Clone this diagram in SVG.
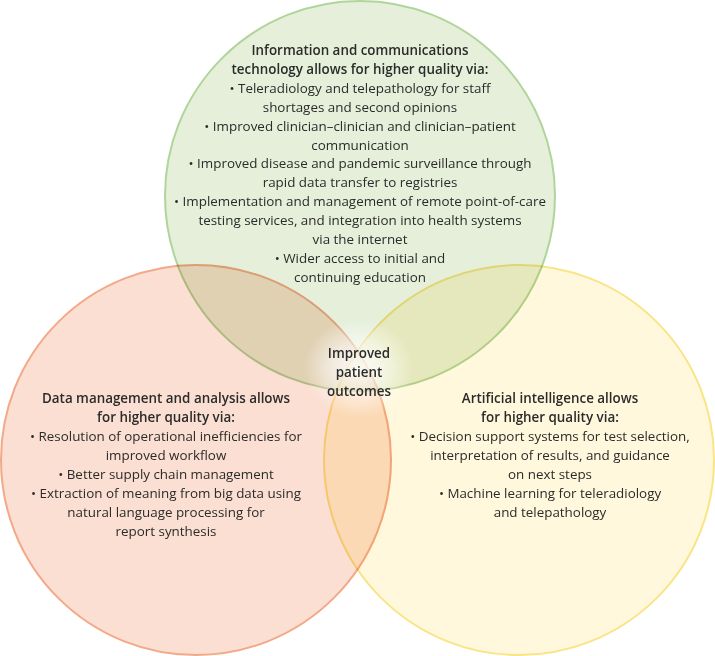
<svg xmlns="http://www.w3.org/2000/svg" width="715" height="656" viewBox="0 0 715 656">
<defs>
<radialGradient id="glow" cx="0.5" cy="0.5" r="0.5">
<stop offset="0" stop-color="#ffffff" stop-opacity="0.9"/>
<stop offset="0.55" stop-color="#ffffff" stop-opacity="0.5"/>
<stop offset="1" stop-color="#ffffff" stop-opacity="0"/>
</radialGradient>
</defs>
<style>
.c{mix-blend-mode:multiply;stroke-width:2}
text{font-family:"Open Sans","Noto Sans",sans-serif;font-size:13.4px;fill:#2b2b2b;text-anchor:middle}
.b{font-weight:600}
</style>
<rect width="715" height="656" fill="#ffffff"/>
<g id="ict">
<circle class="c" cx="360" cy="196" r="195" fill="#e5efda" stroke="#b0d59a"/>
</g>
<g id="data">
<circle class="c" cx="196" cy="460" r="195" fill="#fbdfd2" stroke="#f3a888"/>
</g>
<g id="ai">
<circle class="c" cx="519" cy="460" r="195" fill="#fff8dc" stroke="#f9e486"/>
</g>
<g id="ict-text">
<text x="360" y="55" class="b">Information and communications</text>
<text x="360" y="74" class="b">technology allows for higher quality via:</text>
<text x="360" y="93">• Teleradiology and telepathology for staff</text>
<text x="360" y="112">shortages and second opinions</text>
<text x="360" y="131">• Improved clinician–clinician and clinician–patient</text>
<text x="360" y="150">communication</text>
<text x="360" y="168">• Improved disease and pandemic surveillance through</text>
<text x="360" y="187">rapid data transfer to registries</text>
<text x="360" y="206">• Implementation and management of remote point-of-care</text>
<text x="360" y="225">testing services, and integration into health systems</text>
<text x="360" y="244">via the internet</text>
<text x="360" y="263">• Wider access to initial and</text>
<text x="360" y="282">continuing education</text>
</g>
<g id="data-text">
<text x="166" y="403" class="b">Data management and analysis allows</text>
<text x="166" y="422" class="b">for higher quality via:</text>
<text x="166" y="441">• Resolution of operational inefficiencies for</text>
<text x="166" y="460">improved workflow</text>
<text x="166" y="479">• Better supply chain management</text>
<text x="166" y="498">• Extraction of meaning from big data using</text>
<text x="166" y="517">natural language processing for</text>
<text x="166" y="536">report synthesis</text>
</g>
<g id="ai-text">
<text x="550" y="403" class="b">Artificial intelligence allows</text>
<text x="550" y="422" class="b">for higher quality via:</text>
<text x="550" y="441">• Decision support systems for test selection,</text>
<text x="550" y="460">interpretation of results, and guidance</text>
<text x="550" y="479">on next steps</text>
<text x="550" y="498">• Machine learning for teleradiology</text>
<text x="550" y="517">and telepathology</text>
</g>
<g id="outcome">
<ellipse cx="359" cy="368" rx="55" ry="50" fill="url(#glow)"/>
<text x="359" y="358" class="b">Improved</text>
<text x="359" y="377" class="b">patient</text>
<text x="359" y="396" class="b">outcomes</text>
</g>
</svg>
